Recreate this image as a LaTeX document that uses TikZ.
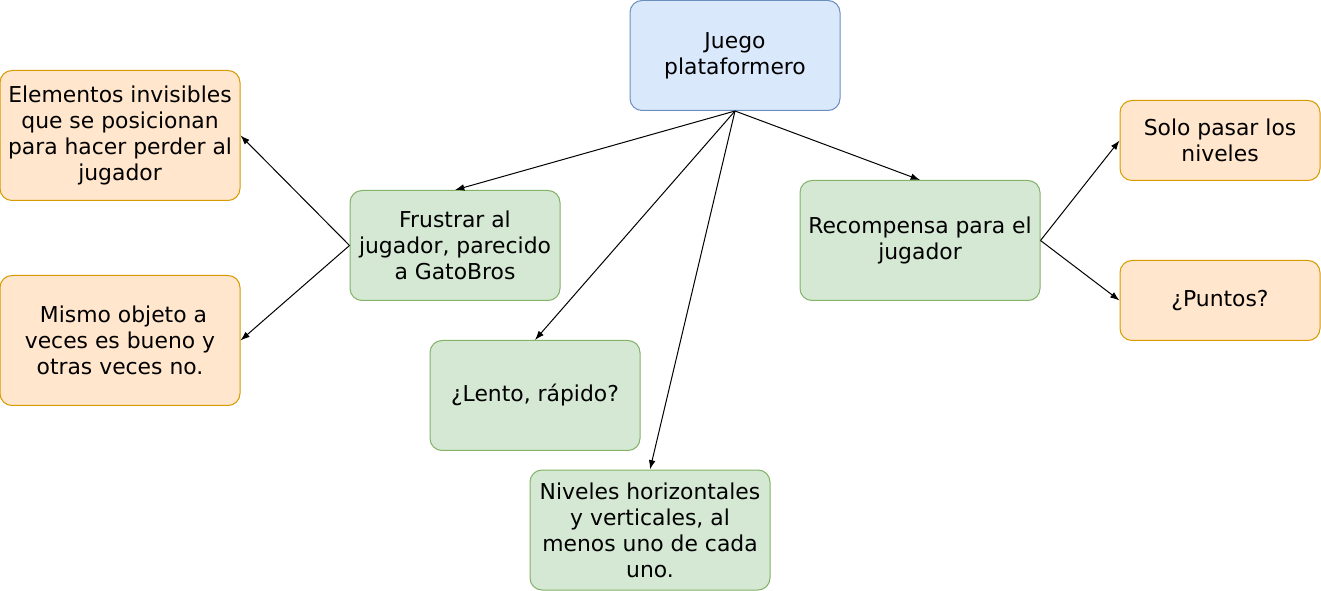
\documentclass[tikz,border=0pt]{standalone}
\usepackage{fontspec}
\setmainfont{DejaVu Sans}
\usetikzlibrary{arrows.meta}
\definecolor{bluefill}{HTML}{DAE8FC}
\definecolor{bluedraw}{HTML}{6C8EBF}
\definecolor{greenfill}{HTML}{D5E8D4}
\definecolor{greendraw}{HTML}{82B366}
\definecolor{orangefill}{HTML}{FFE6CC}
\definecolor{orangedraw}{HTML}{D79B00}
\tikzset{
  box/.style={rectangle, rounded corners=9pt, line width=0.75pt, align=center,
    inner sep=2pt, font=\fontsize{16.4}{19.5}\selectfont},
  topic/.style={box, fill=bluefill, draw=bluedraw},
  idea/.style={box, fill=greenfill, draw=greendraw},
  detail/.style={box, fill=orangefill, draw=orangedraw},
  link/.style={-{Latex[length=7pt,width=5pt]}, line width=0.75pt}
}
\begin{document}
\begin{tikzpicture}[x=0.75pt, y=-0.75pt]
\useasboundingbox (0,0) rectangle (1321,591);
\node[topic, minimum width=157.5pt, minimum height=82.5pt] (J) at (735,55.5) {Juego\\plataformero};
\node[detail, minimum width=180pt, minimum height=97.5pt] (E) at (120,135.5) {Elementos invisibles\\que se posicionan\\para hacer perder al\\jugador};
\node[detail, minimum width=180pt, minimum height=97.5pt] (Mo) at (120,340.5) {\ Mismo objeto a\\veces es bueno y\\otras veces no.};
\node[idea, minimum width=157.5pt, minimum height=82.5pt] (F) at (455,245.5) {Frustrar al\\jugador, parecido\\a GatoBros};
\node[idea, minimum width=157.5pt, minimum height=82.5pt] (L) at (535,395.5) {¿Lento, rápido?};
\node[idea, minimum width=180pt, minimum height=90pt] (N) at (650,530) {Niveles horizontales\\y verticales, al\\menos uno de cada\\uno.};
\node[idea, minimum width=180pt, minimum height=90pt] (R) at (920,240.5) {Recompensa para el\\jugador};
\node[detail, minimum width=150pt, minimum height=60pt] (S) at (1220,140.5) {Solo pasar los\\niveles};
\node[detail, minimum width=150pt, minimum height=60pt] (P) at (1220,300.5) {¿Puntos?};
\draw [link] (J.south) -- (F.north);
\draw [link] (J.south) -- (L.north);
\draw [link] (J.south) -- (N.north);
\draw [link] (J.south) -- (R.north);
\draw [link] (F.west) -- (E.east);
\draw [link] (F.west) -- (Mo.east);
\draw [link] (R.east) -- (S.west);
\draw [link] (R.east) -- (P.west);
\end{tikzpicture}
\end{document}
